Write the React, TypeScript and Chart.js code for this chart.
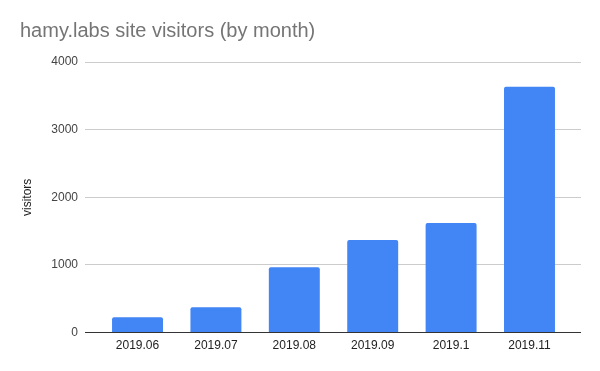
import React, { useEffect, useRef } from "react";
import { Chart, registerables } from "chart.js";

Chart.register(...registerables);

const titleText = "hamy.labs site visitors (by month)";
const yAxisTitle = "visitors";
const categories = ["2019.06", "2019.07", "2019.08", "2019.09", "2019.1", "2019.11"];
const visitors = [227, 375, 967, 1367, 1619, 3634];
const yTicks = [0, 1000, 2000, 3000, 4000];

export default function App() {
  const ref = useRef<HTMLCanvasElement | null>(null);
  useEffect(() => {
    if (!ref.current) return;
    const font = "'Liberation Sans', Arial, sans-serif";
    const chart = new Chart(ref.current, {
      type: "bar",
      data: {
        datasets: [
          {
            label: yAxisTitle,
            data: visitors.map((v, i) => ({ x: i, y: v })),
            backgroundColor: "#4285F4",
            borderRadius: 2,
            borderSkipped: "start",
            categoryPercentage: 1,
            barPercentage: 0.65,
          },
        ],
      },
      options: {
        animation: false,
        responsive: false,
        maintainAspectRatio: false,
        layout: { padding: { left: 20, right: 19, top: 0, bottom: 12 } },
        plugins: {
          legend: { display: false },
          tooltip: { enabled: false },
          title: {
            display: true,
            text: titleText,
            align: "start",
            color: "#757575",
            font: { family: font, size: 20, weight: "normal" },
            padding: { top: 19, bottom: 19 },
          },
        },
        scales: {
          x: {
            type: "linear",
            offset: false,
            min: -0.67,
            max: 5.657,
            grid: { display: false, drawTicks: false },
            border: { display: false },
            afterBuildTicks: (axis: any) => {
              axis.ticks = categories.map((_, i) => ({ value: i }));
            },
            ticks: {
              color: "#222",
              font: { family: font, size: 12 },
              padding: 6,
              maxRotation: 0,
              autoSkip: false,
              callback: (v: any) => categories[v as number] ?? "",
            },
          },
          y: {
            min: 0,
            max: 4000,
            afterBuildTicks: (axis: any) => {
              axis.ticks = yTicks.map((v) => ({ value: v }));
            },
            afterFit: (axis: any) => {
              axis.width = 65;
            },
            grid: {
              color: (ctx: any) => (ctx.tick && ctx.tick.value === 0 ? "#333" : "#ccc"),
              drawTicks: false,
            },
            border: { display: false },
            ticks: {
              color: "#444",
              font: { family: font, size: 12 },
              padding: 7,
              callback: (v: any) => String(v),
            },
            title: {
              display: true,
              text: yAxisTitle,
              color: "#222",
              font: { family: font, size: 12 },
              padding: 0,
            },
          },
        },
      },
    });
    return () => chart.destroy();
  }, []);
  return (
    <div style={{ position: "fixed", left: 0, top: 0, width: 600, height: 371, background: "#fff" }}>
      <canvas ref={ref} width={600} height={371} style={{ width: 600, height: 371 }} />
    </div>
  );
}
